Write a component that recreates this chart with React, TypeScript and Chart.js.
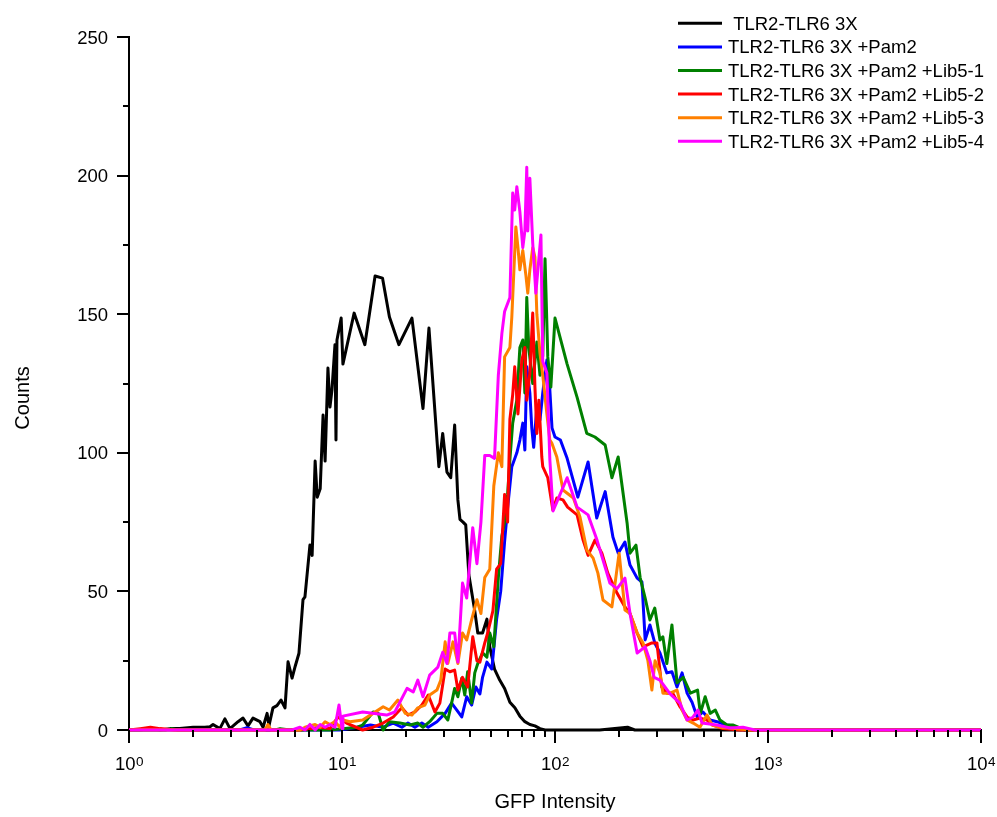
import React, { useEffect, useRef } from "react";
import { Chart, registerables } from "chart.js";

Chart.register(...registerables);

// ---------- data (GFP intensity vs counts) ----------
const seriesLabels = [
  " TLR2-TLR6 3X",
  "TLR2-TLR6 3X +Pam2",
  "TLR2-TLR6 3X +Pam2 +Lib5-1",
  "TLR2-TLR6 3X +Pam2 +Lib5-2",
  "TLR2-TLR6 3X +Pam2 +Lib5-3",
  "TLR2-TLR6 3X +Pam2 +Lib5-4",
];
const seriesColors = ["#000000", "#0000ff", "#008000", "#ff0000", "#ff8000", "#ff00ff"];

const blackX = [1, 1.13, 1.26, 1.4, 1.56, 1.73, 2.0, 2.27, 2.4, 2.48, 2.67, 2.82, 2.98, 3.25, 3.43, 3.62, 3.82, 4.12, 4.26, 4.45, 4.54, 4.74, 4.95, 5.17, 5.4, 5.58, 5.83, 6.03, 6.28, 6.56, 6.7, 7.07, 7.24, 7.48, 7.65, 7.9, 8.15, 8.33, 8.59, 8.78, 8.97, 9.27, 9.37, 9.47, 9.91, 10.1, 11.4, 12.8, 14.3, 15.5, 16.7, 18.5, 21.3, 24.0, 25.6, 28.5, 29.7, 31.1, 32.4, 33.8, 35.0, 35.8, 37.0, 38.1, 39.4, 42.0, 43.4, 45.7, 47.9, 49.4, 52.0, 55.0, 58.0, 61.4, 64.8, 68.4, 72.2, 76.2, 80.5, 85.0, 89.8, 162, 219, 237, 10000];
const blackY = [0, 0, 0.5, 0, 0.5, 0.5, 1, 1, 1.2, 2, 0.5, 4, 0.5, 3, 4.3, 1.5, 4.3, 3, 1, 6, 1.5, 8, 8.8, 10.8, 8, 24.6, 18.7, 23, 27.7, 47, 48, 66.7, 63, 97, 84, 87, 113.6, 97, 130.6, 116.5, 122.6, 139, 104.6, 140.7, 148.6, 132, 150.4, 139, 163.8, 163, 149, 139, 148.6, 116, 145, 95, 107, 93, 91, 110, 83, 76, 75, 74, 56, 43, 35, 35, 40, 30, 22, 18, 15, 10, 8, 5, 3, 2, 1.5, 0.5, 0, 0, 1, 0, 0];

const blueX = [1, 3.31, 3.58, 3.86, 9.78, 11.8, 13.6, 15.6, 17.4, 19.1, 20.4, 22.0, 23.7, 25.4, 27.9, 30.5, 32.7, 34.6, 36.5, 38.5, 40.6, 42.5, 44.4, 45.7, 47.9, 50.5, 53.2, 55.6, 58.0, 59.9, 62.7, 66.2, 68.4, 70.6, 72.2, 73.7, 76.2, 77.8, 79.4, 82.2, 85.0, 87.6, 91.6, 93.6, 96.8, 100, 106, 114, 128, 143, 157, 172, 187, 198, 213, 225, 243, 256, 265, 279, 294, 311, 335, 354, 374, 395, 417, 440, 465, 495, 535, 576, 632, 683, 779, 10000];
const blueY = [0, 0, 0.8, 0, 0, 1, 1.8, 1, 2.5, 1, 2.5, 1, 2.5, 1, 3, 6, 9.7, 7.2, 4.7, 12, 9, 15.5, 13, 19, 24.5, 22, 40, 50, 68, 80, 95, 100, 104.6, 110.7, 101, 131, 121.6, 109, 102, 116.5, 111.8, 121.6, 133.5, 128.8, 109, 105.7, 104.6, 98, 84, 96.7, 76.5, 86, 69.6, 63.8, 67.8, 59.5, 54.8, 53.4, 32.5, 37.9, 31.4, 27.8, 20.6, 21, 15.5, 20.6, 13.3, 10, 4.7, 6.5, 3.6, 3, 1.8, 1.5, 0, 0];

const greenX = [1, 1.48, 1.59, 1.7, 4.85, 5.12, 5.7, 8.78, 11.8, 12.5, 14.0, 14.8, 15.6, 16.7, 18.7, 20.9, 22.7, 24.0, 25.8, 27.9, 29.7, 31.4, 32.7, 33.8, 35.0, 36.5, 37.7, 38.9, 40.6, 42.0, 43.4, 45.7, 47.9, 49.4, 51.6, 54.2, 56.3, 58.0, 59.9, 61.4, 63.3, 66.2, 68.4, 70.6, 72.2, 73.7, 75.3, 78.6, 82.2, 85.0, 87.6, 89.8, 92.5, 95.6, 100, 114, 127, 141, 154, 172, 185, 198, 218, 225, 240, 251, 265, 279, 294, 311, 321, 335, 354, 374, 400, 432, 467, 481, 507, 535, 566, 595, 642, 683, 779, 10000];
const greenY = [0, 0, 0.5, 0, 0, 0.5, 0, 0, 1, 1.8, 6.5, 6, 0, 3, 2.5, 1.8, 2.5, 1, 3, 6, 6, 3.6, 9.7, 15, 12, 18.7, 12.6, 21, 9.7, 20.6, 24, 27.8, 26.3, 35, 30, 55, 70, 75, 85, 97.4, 110.7, 119, 138, 140.7, 121.6, 156, 138, 125, 140, 128, 135, 170, 134.6, 123.7, 148.6, 132, 120, 107, 105.7, 102.8, 91, 98.5, 74.7, 63.8, 66.7, 55, 47.6, 39.7, 44, 32.5, 33.6, 24, 37.9, 17, 19, 13.3, 14.4, 6, 12, 6, 7.2, 3.6, 1.8, 1.8, 0, 0];

const redX = [1, 1.13, 1.26, 1.4, 1.64, 6.35, 7.9, 8.78, 9.58, 10.5, 12.5, 14.0, 15.6, 17.4, 19.1, 20.4, 22.0, 23.7, 25.4, 27.3, 28.8, 30.5, 32.1, 33.8, 35.0, 36.8, 38.9, 41.1, 43.0, 44.4, 46.8, 48.3, 51.1, 53.2, 55.6, 58.0, 59.9, 61.4, 63.3, 64.7, 67.0, 69.9, 72.2, 73.7, 76.2, 78.6, 80.5, 82.2, 84.0, 86.7, 87.6, 92.5, 97.7, 102, 109, 114.6, 127, 135.5, 143, 154, 166, 177, 195.5, 213, 225, 243, 259, 285, 301, 317, 335, 357, 386, 417, 445, 479, 517, 551, 613, 738, 10000];
const redY = [0, 0.5, 1, 0.5, 0, 0, 1, 0.5, 4.7, 2.5, 0, 1, 2.5, 4.7, 8, 5.4, 6.5, 9, 12.6, 6.5, 9.7, 22, 21, 21.6, 14.4, 19, 15.5, 33.6, 25, 24.5, 31.4, 35, 43, 58, 60, 85, 75, 112, 121, 131, 114, 133.5, 138, 119, 128.8, 150.4, 123.7, 107, 119, 98.5, 95, 91, 79.4, 83.7, 83, 80.4, 77.6, 68.5, 63, 68.5, 63.8, 56.6, 49.4, 44.4, 42, 35, 30, 31.4, 31.4, 15.5, 13.3, 13.3, 8.4, 4.7, 3.6, 4.3, 3.6, 1.8, 0.5, 0, 0];

const orangeX = [1, 4.35, 4.49, 4.64, 6.35, 6.7, 7.48, 7.9, 8.33, 8.78, 9.27, 9.78, 10.1, 10.9, 12.5, 14.0, 15.6, 16.7, 18.3, 19.8, 21.3, 22.7, 24.5, 25.8, 27.9, 29.1, 30.5, 31.4, 33.2, 35.0, 36.8, 38.5, 40.6, 43.0, 44.9, 46.8, 49.4, 51.6, 54.2, 56.3, 58.0, 61.4, 62.7, 65.5, 67.0, 68.4, 70.6, 73.0, 74.5, 76.2, 78.6, 80.5, 82.2, 85.0, 87.6, 91.6, 94.6, 96.6, 102, 109, 122, 131, 141, 151, 159, 168, 185, 200, 213, 225, 243, 259, 273, 285, 295, 311, 321, 347, 374, 395, 417, 445, 479, 517, 546, 595, 700, 823, 10000];
const orangeY = [0, 0, 2, 0, 0, 1, 2, 1, 3, 2, 3, 1, 3.6, 3, 3.6, 6, 8.4, 7.2, 10.8, 6, 5.4, 8, 9, 12.6, 14.4, 18, 31.8, 24, 31.8, 24, 35, 32.5, 39.7, 47, 42, 55, 58, 88, 100, 95, 134.6, 138, 149, 181.5, 174, 166, 173, 164, 157.6, 166, 174, 170.6, 150, 136, 128, 114, 104.6, 103.5, 98.5, 86.6, 83.7, 76.8, 65, 62, 56.6, 46.9, 44.4, 63.8, 43.3, 42, 35, 31.4, 25, 14.4, 25, 20.6, 13.3, 13.3, 14.4, 7.2, 3.6, 2.5, 1, 5.4, 1.8, 1, 0.5, 0, 0];

const magentaX = [1, 5.83, 6.35, 6.7, 7.07, 7.48, 7.9, 8.33, 8.78, 9.27, 9.68, 10.0, 10.1, 12.5, 16.2, 17.7, 20.2, 21.6, 22.7, 24.0, 25.8, 28.2, 29.7, 31.1, 32.1, 33.8, 35.0, 36.8, 38.5, 41.1, 43.0, 44.9, 46.8, 49.4, 52.0, 54.2, 56.3, 58.0, 61.4, 63.3, 64.7, 66.2, 68.4, 70.6, 72.2, 73.7, 74.5, 76.2, 78.6, 81.3, 85.9, 87.6, 91.6, 94.6, 97.9, 103, 114, 127, 143, 157.5, 181, 195.5, 213, 225, 243, 265, 279, 292, 311, 347, 386, 417, 445, 469, 490, 576, 663, 763, 868, 10000];
const magentaY = [0, 0, 1, 0, 2, 0, 2, 1, 2, 1, 9, 0.5, 5, 6.5, 5.4, 6.5, 15, 13.7, 18, 12, 19.8, 22.7, 28, 24, 35, 35, 24.5, 53, 47.6, 73, 60, 75, 99, 99, 98, 128, 143, 151, 156, 193.7, 187.6, 196, 187, 174, 180, 203, 180, 199, 175.7, 157.6, 178.6, 133, 128.8, 97.4, 79, 83, 91, 80.4, 77.6, 68.5, 53, 51, 54.8, 42, 27.8, 30, 25, 19, 18, 13, 9.7, 3.6, 4.7, 7.2, 2.5, 1.8, 0.7, 1, 0, 0];

const seriesX = [blackX, blueX, greenX, redX, orangeX, magentaX];
const seriesY = [blackY, blueY, greenY, redY, orangeY, magentaY];

// ---------- axis ticks ----------
const yMajorTicks = [0, 50, 100, 150, 200, 250];
const yMinorTicks = [25, 75, 125, 175, 225];
const xDecadeTicks = [1, 10, 100, 1000, 10000];
const xDecadeExponents = ["0", "1", "2", "3", "4"];
const xMinorMultipliers = [2, 3, 4, 5, 6, 7, 8, 9];

const xTitle = "GFP Intensity";
const yTitle = "Counts";

const FONT = '"Liberation Sans", Arial, Helvetica, sans-serif';

const decorPlugin = {
  id: "decor",
  beforeDatasetsDraw(chart: any) {
    const { ctx, chartArea } = chart;
    ctx.save();
    ctx.strokeStyle = "#000";
    ctx.lineWidth = 2;
    ctx.lineCap = "square";
    ctx.beginPath();
    ctx.moveTo(chartArea.left, chartArea.top);
    ctx.lineTo(chartArea.left, chartArea.bottom);
    ctx.lineTo(chartArea.right, chartArea.bottom);
    ctx.stroke();
    ctx.restore();
  },
  afterDraw(chart: any) {
    const { ctx, chartArea } = chart;
    const xs = chart.scales.x;
    const ys = chart.scales.y;
    const left = chartArea.left;
    const bottom = chartArea.bottom;
    ctx.save();
    ctx.strokeStyle = "#000";
    ctx.lineWidth = 2;
    ctx.lineCap = "butt";
    ctx.beginPath();
    yMajorTicks.forEach((v) => {
      const p = Math.round(ys.getPixelForValue(v));
      ctx.moveTo(left - 12, p);
      ctx.lineTo(left, p);
    });
    yMinorTicks.forEach((v) => {
      const p = Math.round(ys.getPixelForValue(v));
      ctx.moveTo(left - 6, p);
      ctx.lineTo(left, p);
    });
    xDecadeTicks.forEach((v, i) => {
      const p = Math.round(xs.getPixelForValue(v));
      ctx.moveTo(p, bottom);
      ctx.lineTo(p, bottom + 13);
      if (i < xDecadeTicks.length - 1) {
        xMinorMultipliers.forEach((m) => {
          const q = Math.round(xs.getPixelForValue(v * m));
          ctx.moveTo(q, bottom);
          ctx.lineTo(q, bottom + 7);
        });
      }
    });
    ctx.stroke();

    // y tick labels
    ctx.fillStyle = "#000";
    ctx.font = `18.5px ${FONT}`;
    ctx.textAlign = "right";
    ctx.textBaseline = "alphabetic";
    yMajorTicks.forEach((v) => {
      const p = ys.getPixelForValue(v);
      ctx.fillText(String(v), left - 21, p + 6.5);
    });

    // x tick labels: 10^n
    ctx.textAlign = "left";
    xDecadeTicks.forEach((v, i) => {
      const p = xs.getPixelForValue(v);
      ctx.font = `18.5px ${FONT}`;
      const w1 = ctx.measureText("10").width;
      ctx.font = `13.5px ${FONT}`;
      const w2 = ctx.measureText(xDecadeExponents[i]).width;
      const start = p - (w1 + w2) / 2;
      ctx.font = `18.5px ${FONT}`;
      ctx.fillText("10", start, bottom + 40);
      ctx.font = `13.5px ${FONT}`;
      ctx.fillText(xDecadeExponents[i], start + w1 + 0.5, bottom + 36);
    });

    // axis titles
    ctx.font = `20px ${FONT}`;
    ctx.textAlign = "center";
    ctx.fillText(xTitle, (chartArea.left + chartArea.right) / 2, 808);
    ctx.save();
    ctx.translate(29, 398);
    ctx.rotate(-Math.PI / 2);
    ctx.fillText(yTitle, 0, 0);
    ctx.restore();

    // legend
    ctx.font = `18.5px ${FONT}`;
    ctx.textAlign = "left";
    seriesLabels.forEach((lab, i) => {
      const y = 23.3 + i * 23.6;
      ctx.strokeStyle = seriesColors[i];
      ctx.lineWidth = 3;
      ctx.beginPath();
      ctx.moveTo(678, y);
      ctx.lineTo(722, y);
      ctx.stroke();
      ctx.fillStyle = "#000";
      ctx.fillText(lab, 728, y + 6.5);
    });
    ctx.restore();
  },
};

export default function App() {
  const canvasRef = useRef<HTMLCanvasElement | null>(null);

  useEffect(() => {
    const canvas = canvasRef.current;
    if (!canvas) return;
    const datasets = seriesLabels.map((label, i) => ({
      label,
      data: seriesX[i].map((x, j) => ({ x, y: seriesY[i][j] })),
      borderColor: seriesColors[i],
      backgroundColor: seriesColors[i],
      borderWidth: 3,
      pointRadius: 0,
      tension: 0,
      fill: false,
      clip: false as any,
      borderJoinStyle: "round" as const,
      order: seriesLabels.length - 1 - i,
    }));
    const chart = new Chart(canvas, {
      type: "line",
      data: { datasets },
      options: {
        responsive: false,
        maintainAspectRatio: false,
        animation: false,
        parsing: false as any,
        normalized: true,
        layout: { padding: { left: 129, top: 37, right: 16, bottom: 87 } },
        plugins: { legend: { display: false }, tooltip: { enabled: false } },
        scales: {
          x: {
            type: "logarithmic",
            min: 1,
            max: 10000,
            ticks: { display: false },
            grid: { display: false, drawTicks: false },
            border: { display: false },
            afterFit: (s: any) => {
              s.height = 0;
            },
          },
          y: {
            type: "linear",
            min: 0,
            max: 250,
            ticks: { display: false },
            grid: { display: false, drawTicks: false },
            border: { display: false },
            afterFit: (s: any) => {
              s.width = 0;
            },
          },
        },
      },
      plugins: [decorPlugin],
    });
    return () => chart.destroy();
  }, []);

  return (
    <div style={{ position: "absolute", left: 0, top: 0, width: 997, height: 817, background: "#fff" }}>
      <canvas ref={canvasRef} width={997} height={817} style={{ display: "block" }} />
    </div>
  );
}
